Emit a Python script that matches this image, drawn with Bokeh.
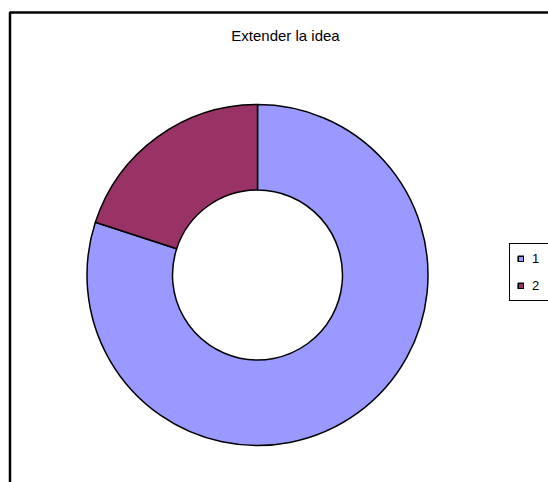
import math
from bokeh.plotting import figure
from bokeh.models import Range1d, Legend, LegendItem, Label, BoxAnnotation, ColumnDataSource
from bokeh.embed import file_html
from bokeh.resources import INLINE

title_text = "Extender la idea"
categories = ["1", "2"]
values = [80, 20]
colors = ["#9999FF", "#993366"]

W, H = 548, 482
p = figure(width=W, height=H, output_backend="svg", toolbar_location=None,
           x_range=Range1d(0, W), y_range=Range1d(0, H), min_border=0)
p.axis.visible = False
p.grid.visible = False
p.outline_line_color = None
p.background_fill_color = "white"
p.border_fill_color = "white"

# chart area border (right/bottom edges lie outside the window)
p.add_layout(BoxAnnotation(left=9.5, right=W + 30, top=H - 12, bottom=-30,
                           fill_alpha=0, line_color="black", line_width=2.5,
                           line_alpha=1))

cx, cy = 257, H - 274.5
r_out, r_in = 170.5, 85

total = sum(values)
starts, ends = [], []
acc = 0.0
for v in values:
    a0 = math.pi / 2 - 2 * math.pi * acc / total
    acc += v
    a1 = math.pi / 2 - 2 * math.pi * acc / total
    starts.append(a0)
    ends.append(a1)

src = ColumnDataSource(dict(x=[cx] * len(values), y=[cy] * len(values),
                            start=starts, end=ends, color=colors, cat=categories))
p.annular_wedge(x="x", y="y", inner_radius=r_in, outer_radius=r_out,
                start_angle="start", end_angle="end", direction="clock",
                fill_color="color", line_color="black", line_width=1.5, source=src)

items = []
nan = float("nan")
for c, col in zip(categories, colors):
    r = p.quad(left=[nan], right=[nan], top=[nan], bottom=[nan], fill_color=col,
               line_color="black", line_width=1.6)
    items.append(LegendItem(label=c, renderers=[r]))

legend = Legend(items=items, location=(509, 181), orientation="vertical",
                border_line_color="black", border_line_width=1, border_line_alpha=1,
                background_fill_color="white", background_fill_alpha=1,
                label_text_font="Liberation Sans", label_text_font_size="13px",
                label_text_color="black",
                glyph_width=7, glyph_height=7, label_standoff=8,
                label_width=10, label_height=13, spacing=12, padding=7, margin=0)
p.add_layout(legend, "center")

p.add_layout(Label(x=285, y=H - 35, text=title_text, text_align="center",
                   text_baseline="middle", text_font="Liberation Sans",
                   text_font_size="15px", text_color="black"))

open("out.html", "w").write(file_html(p, INLINE))
